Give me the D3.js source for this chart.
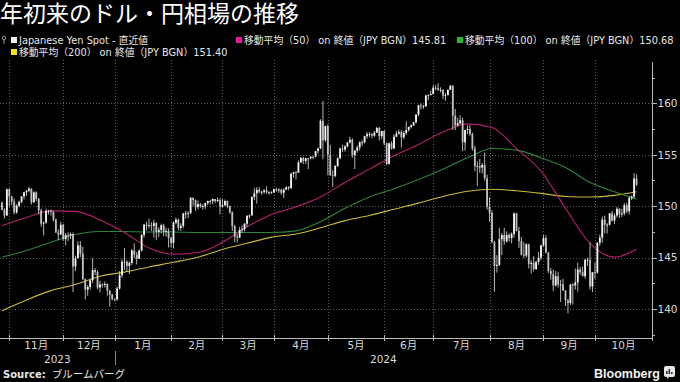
<!DOCTYPE html>
<html><head><meta charset="utf-8">
<script src="https://cdn.jsdelivr.net/npm/d3@7"></script>
<style>
html,body{margin:0;padding:0;background:#000;}
svg{display:block;}
text{font-family:"DejaVu Sans","Noto Sans CJK JP",sans-serif;}
text.brand{font-family:"Liberation Sans",Arial,sans-serif;}
</style></head><body>
<svg id="chart" width="680" height="382"></svg>
<script>
// ---- categories: trading days (weekdays) from first to last candle ----
const startDate = "2023-10-27";
const endDate = "2024-10-24";

// ---- daily USD/JPY candles (Oct-27-2023 .. Oct-24-2024) ----
const open = [
150.35,149.65,149.1,
151.65,150.95,150.45,149.4,150.05,150.4,150.95,151.35,151.5,151.7,150.4,151.35,150.7,149.6,148.3,148.4,149.55,149.55,149.45,148.7,147.45,147.25,
148.2,146.8,147.2,147.15,147.3,144.15,144.95,146.2,145.4,142.9,141.9,142.15,142.8,143.8,143.6,142.1,142.4,142.35,142.45,141.8,141.4,
141.0,140.95,142.0,143.3,144.6,144.6,144.2,144.5,145.7,145.3,144.9,145.7,147.2,148.2,148.1,148.15,148.1,148.35,147.5,147.7,148.15,147.5,147.6,
146.9,146.45,148.4,148.7,147.9,148.1,149.3,149.3,149.35,150.8,150.6,149.9,150.2,150.0,150.0,150.3,150.5,150.5,150.7,150.5,150.6,
149.95,150.1,150.5,150.0,149.4,148.05,147.05,146.95,147.7,147.75,148.3,149.05,149.1,150.9,151.25,151.6,151.4,151.4,151.55,151.35,151.35,
151.35,151.65,151.55,151.6,151.3,151.6,151.85,151.75,153.15,153.3,153.25,154.25,154.7,154.4,154.65,154.65,154.8,154.8,155.35,155.6,158.3,156.4,
157.8,155.0,153.0,152.95,153.9,154.65,155.6,155.5,155.8,156.2,156.45,154.95,155.4,155.7,156.2,156.2,156.8,157.0,157.0,156.85,157.15,157.6,156.8,
157.3,156.1,154.1,156.1,155.6,156.75,157.05,157.2,156.7,157.1,157.4,157.7,157.85,158.15,158.9,159.8,159.7,159.7,160.75,160.8,
160.9,161.5,161.45,161.3,161.3,160.75,160.8,161.3,161.7,158.8,157.85,158.05,158.35,156.2,157.4,157.5,157.0,155.6,153.9,153.9,153.75,154.0,152.7,
149.95,149.35,146.5,144.2,144.3,146.8,147.2,146.6,147.2,146.9,147.3,149.3,147.6,146.6,145.3,145.2,146.3,144.4,144.5,143.9,144.6,145.0,
146.2,146.9,145.5,143.7,143.4,142.3,143.2,142.4,142.4,141.8,140.85,140.6,142.4,142.3,142.6,143.85,143.6,143.2,144.8,144.8,142.2,
143.6,143.55,146.45,146.95,148.7,148.2,148.2,149.3,148.6,149.1,149.75,149.2,149.3,150.1,149.5,150.8,150.95,152.7
];
const high = [
150.45,149.8,151.7,
151.75,151.0,150.75,150.2,150.55,151.0,151.4,151.6,151.9,151.75,151.45,151.45,150.8,149.75,148.5,149.75,149.65,149.7,149.55,148.8,147.75,148.5,
148.3,147.4,147.45,147.45,147.45,145.2,146.6,146.6,146.05,143.0,142.35,142.85,144.95,144.0,143.75,142.75,142.5,142.7,142.5,141.85,141.5,
141.05,142.2,143.7,144.85,145.95,144.75,144.65,145.85,146.4,145.55,145.8,147.3,148.3,148.5,148.8,148.45,148.7,148.45,147.95,148.3,148.3,147.9,147.85,
147.05,148.55,148.9,148.8,148.35,149.35,149.55,149.5,150.9,150.85,150.65,150.55,150.3,150.2,150.35,150.55,150.6,150.75,150.7,150.85,150.8,
150.7,150.65,150.55,150.05,149.5,148.2,147.3,148.0,148.15,148.35,149.15,149.2,150.95,151.8,151.85,151.85,151.5,151.65,151.95,151.45,151.45,
151.7,151.8,151.75,151.7,151.75,151.95,151.95,153.25,153.3,153.4,154.45,154.75,154.8,154.7,154.65,154.85,154.85,155.35,155.7,158.45,160.2,157.8,
157.95,155.95,153.5,154.0,154.75,155.7,155.95,155.95,156.25,156.75,156.6,155.45,155.9,156.3,156.4,156.85,157.2,157.2,157.1,157.3,157.7,157.7,157.3,
157.4,156.2,156.2,156.3,157.0,157.3,157.45,157.4,157.3,158.25,157.75,157.95,158.2,158.95,159.85,159.95,159.85,160.85,160.85,161.25,
161.75,161.75,161.95,161.55,161.35,161.0,161.35,161.75,161.75,159.45,158.6,158.85,158.6,157.4,157.85,157.9,157.15,155.85,154.35,154.6,154.2,155.2,153.05,
150.9,149.6,146.65,145.25,147.9,147.4,147.9,147.55,147.4,147.45,149.4,149.35,148.0,147.0,146.5,146.4,146.35,144.75,145.15,144.7,145.55,146.25,
147.2,147.2,145.55,144.0,143.85,143.7,143.6,142.85,142.95,141.85,141.0,142.4,142.5,143.95,144.5,144.1,144.15,144.85,145.0,146.5,143.35,
144.55,146.5,147.25,149.0,149.1,148.35,149.35,149.55,149.3,149.95,149.8,149.75,150.3,150.3,151.0,151.05,153.2,153.1
];
const low = [
149.6,148.8,149.05,
150.0,150.1,149.2,149.25,149.9,150.3,150.65,151.0,151.35,150.15,150.3,150.5,149.2,148.0,147.15,148.3,149.2,149.1,148.5,147.4,146.7,147.2,
146.65,146.2,146.6,146.8,141.65,143.7,144.95,145.05,142.85,140.95,141.3,141.9,142.55,143.3,141.95,141.6,142.1,142.1,141.3,140.25,140.85,
140.8,140.8,141.9,143.05,143.8,143.65,143.4,144.3,144.95,144.35,144.9,145.6,146.95,147.65,147.85,147.6,146.95,146.7,147.0,147.35,147.1,147.05,146.0,
146.0,145.9,148.25,147.65,147.6,147.85,148.8,148.85,149.2,150.05,149.55,149.7,149.85,149.65,149.75,150.1,150.2,150.2,150.3,150.4,149.2,
149.9,150.0,149.8,149.25,147.6,146.5,146.5,146.9,147.4,147.55,148.0,148.8,149.1,150.6,150.25,151.25,151.1,151.2,151.2,151.1,151.2,
151.25,151.4,151.3,151.1,150.8,151.6,151.55,151.7,152.75,152.6,153.25,154.2,154.1,154.1,153.6,154.55,154.55,154.75,155.1,155.55,154.55,156.25,
153.0,152.95,151.85,152.8,153.8,154.6,155.25,155.3,155.7,156.1,154.7,153.6,155.2,155.4,155.85,156.1,156.55,156.7,156.6,156.75,157.1,156.4,156.5,
155.9,154.0,154.05,155.5,155.55,156.7,156.95,155.7,156.5,156.9,157.25,157.55,157.8,158.05,158.75,159.4,159.45,159.65,160.3,160.75,
160.85,161.25,161.2,161.05,160.4,160.25,160.75,161.3,157.4,157.4,157.75,157.95,155.35,155.4,157.0,156.85,155.4,153.4,151.95,153.25,153.2,152.5,149.65,
148.5,146.4,141.7,143.55,144.2,145.25,146.25,146.45,146.55,146.4,146.95,147.55,145.95,145.2,144.95,145.05,143.95,143.45,143.65,143.8,144.3,144.75,
146.05,145.4,143.5,142.85,141.75,142.2,142.1,140.7,141.8,140.3,139.6,140.4,140.45,141.9,141.7,143.35,143.2,142.95,144.2,141.9,141.65,
142.95,143.45,146.15,146.45,147.35,147.35,148.15,148.5,148.25,148.9,148.85,148.95,149.1,149.3,149.2,150.6,150.75,151.95
];
const close = [
149.65,149.1,151.65,
150.95,150.45,149.4,150.05,150.4,150.95,151.35,151.5,151.7,150.4,151.35,150.7,149.6,148.3,148.4,149.55,149.55,149.45,148.7,147.45,147.25,148.2,
146.8,147.2,147.15,147.3,144.15,144.95,146.2,145.4,142.9,141.9,142.15,142.8,143.8,143.6,142.1,142.4,142.35,142.45,141.8,141.4,141.0,
140.95,142.0,143.3,144.6,144.6,144.2,144.5,145.7,145.3,144.9,145.7,147.2,148.2,148.1,148.15,148.1,148.35,147.5,147.7,148.15,147.5,147.6,146.9,
146.45,148.4,148.7,147.9,148.1,149.3,149.3,149.35,150.8,150.6,149.9,150.2,150.0,150.0,150.3,150.5,150.5,150.7,150.5,150.6,149.95,
150.1,150.5,150.0,149.4,148.05,147.05,146.95,147.7,147.75,148.3,149.05,149.1,150.9,151.25,151.6,151.4,151.4,151.55,151.35,151.35,151.35,
151.65,151.55,151.6,151.3,151.6,151.85,151.75,153.15,153.3,153.25,154.25,154.7,154.4,154.65,154.65,154.8,154.8,155.35,155.6,158.3,156.4,157.8,
155.0,153.0,152.95,153.9,154.65,155.6,155.5,155.8,156.2,156.45,154.95,155.4,155.7,156.2,156.2,156.8,157.0,157.0,156.85,157.15,157.6,156.8,157.3,
156.1,154.1,156.1,155.6,156.75,157.05,157.2,156.7,157.1,157.4,157.7,157.85,158.15,158.9,159.8,159.7,159.7,160.75,160.8,160.9,
161.5,161.45,161.3,161.3,160.75,160.8,161.3,161.7,158.8,157.85,158.05,158.35,156.2,157.4,157.5,157.0,155.6,153.9,153.9,153.75,154.0,152.7,149.95,
149.35,146.5,144.2,144.3,146.8,147.2,146.6,147.2,146.9,147.3,149.3,147.6,146.6,145.3,145.2,146.3,144.4,144.5,143.9,144.6,145.0,146.2,
146.9,145.5,143.7,143.4,142.3,143.2,142.4,142.4,141.8,140.85,140.6,142.4,142.3,142.6,143.85,143.6,143.2,144.8,144.8,142.2,143.6,
143.55,146.45,146.95,148.7,148.2,148.2,149.3,148.6,149.1,149.75,149.2,149.3,150.1,149.5,150.8,150.95,152.7,152.1
];

// ---- moving averages, sampled every 10 trading days (index into trading days) ----
const maIdx = [0,10,20,30,40,50,60,70,80,90,100,110,120,130,140,150,160,170,180,190,200,210,220,230,240,250,259];
const ma50  = [148.1,148.9,149.55,149.5,148.67,147.45,145.95,145.35,145.5,146.5,148.0,149.2,149.95,150.9,152.3,153.6,154.9,156.0,157.2,158.0,157.65,155.6,153.4,149.8,146.4,145.05,145.81];
const ma100 = [145.05,145.7,146.5,147.25,147.55,147.55,147.5,147.5,147.45,147.45,147.45,147.45,147.6,148.5,149.8,150.9,151.7,152.6,153.6,154.7,155.6,155.45,154.7,153.75,152.3,151.4,150.68];
const ma200 = [139.85,140.9,141.8,142.4,143.2,143.6,144.1,144.55,145.05,145.8,146.4,147.0,147.3,147.9,148.6,149.1,149.7,150.3,150.95,151.45,151.65,151.5,151.25,150.95,150.9,151.05,151.40];

// ---- axis labels ----
const yTicks = [140,145,150,155,160];
const yMinorTicks = [137.5,142.5,147.5,152.5,157.5,162.5];
const monthLabels = ["11月","12月","1月","2月","3月","4月","5月","6月","7月","8月","9月","10月"];
const yearLabels = ["2023","2024"];

// ---- texts ----
const titleText = "年初来のドル・円相場の推移";
const legendNames = ["Japanese Yen Spot - 直近値","移動平均（50） on 終値（JPY BGN）145.81","移動平均（100） on 終値（JPY BGN）150.68","移動平均（200） on 終値（JPY BGN）151.40"];
const legendColors = ["#f2f2f2","#e8179b","#2bb534","#f2e21a"];
const lineColors = {ma50:"#b5206f", ma100:"#27873a", ma200:"#cdb83a"};

// ================= drawing =================
const svg = d3.select("#chart");
svg.append("rect").attr("width",680).attr("height",382).attr("fill","#000");

const parse = d3.timeParse("%Y-%m-%d");
const days = d3.timeDay.range(parse(startDate), d3.timeDay.offset(parse(endDate),1))
  .filter(d => d.getDay()!==0 && d.getDay()!==6);

const plotL = 0, plotR = 652, plotT = 60, plotB = 338;
const x = d3.scaleLinear().domain([-0.8, 265.3]).range([plotL, plotR]);
const y = d3.scaleLinear().domain([137.2, 164.2]).range([plotB, plotT]);

// month boundaries
const monthStarts = [];
days.forEach((d,i)=>{ if(i>0 && d.getMonth()!==days[i-1].getMonth()) monthStarts.push(i); });

const grid = svg.append("g");
grid.selectAll("line.h").data(yTicks).join("line")
  .attr("x1",plotL).attr("x2",plotR).attr("y1",d=>Math.round(y(d))+0.5).attr("y2",d=>Math.round(y(d))+0.5)
  .attr("stroke","#5c5c5c").attr("stroke-dasharray","1,2");
grid.selectAll("line.v").data(monthStarts).join("line")
  .attr("x1",d=>Math.round(x(d))+0.5).attr("x2",d=>Math.round(x(d))+0.5).attr("y1",plotT).attr("y2",plotB)
  .attr("stroke","#5c5c5c").attr("stroke-dasharray","1,2");

const plot = svg.append("g");
svg.append("clipPath").attr("id","clip").append("rect").attr("x",plotL).attr("y",plotT).attr("width",plotR-plotL).attr("height",plotB-plotT);
plot.attr("clip-path","url(#clip)");

// MA lines
const maLine = vals => d3.line().x((d,i)=>x(maIdx[i])).y(d=>y(d)).curve(d3.curveMonotoneX)(vals);
plot.append("path").attr("d",maLine(ma200)).attr("fill","none").attr("stroke",lineColors.ma200).attr("stroke-width",1.1);
plot.append("path").attr("d",maLine(ma100)).attr("fill","none").attr("stroke",lineColors.ma100).attr("stroke-width",1.1);
plot.append("path").attr("d",maLine(ma50)).attr("fill","none").attr("stroke",lineColors.ma50).attr("stroke-width",1.1);

// candles
const idx = d3.range(close.length);
plot.selectAll("line.wick").data(idx).join("line")
  .attr("x1",i=>x(i)).attr("x2",i=>x(i)).attr("y1",i=>y(high[i])).attr("y2",i=>y(low[i]))
  .attr("stroke","#c8c8c8").attr("stroke-width",0.9);
plot.selectAll("rect.body").data(idx).join("rect")
  .attr("x",i=>x(i)-0.9).attr("width",1.8)
  .attr("y",i=>y(Math.max(open[i],close[i])))
  .attr("height",i=>Math.max(0.8, Math.abs(y(open[i])-y(close[i]))))
  .attr("fill",i=>close[i]>=open[i]?"#f4f4f4":"#bfbfbf");

// right axis
const axC = "#b8b8b8";
svg.append("line").attr("x1",plotR+0.5).attr("x2",plotR+0.5).attr("y1",plotT+2).attr("y2",plotB).attr("stroke",axC);
svg.selectAll("line.yt").data(yTicks).join("line")
  .attr("x1",plotR).attr("x2",plotR+5).attr("y1",d=>Math.round(y(d))+0.5).attr("y2",d=>Math.round(y(d))+0.5).attr("stroke",axC);
svg.selectAll("line.ym").data(yMinorTicks).join("line")
  .attr("x1",plotR).attr("x2",plotR+3).attr("y1",d=>Math.round(y(d))+0.5).attr("y2",d=>Math.round(y(d))+0.5).attr("stroke",axC);
svg.selectAll("text.yl").data(yTicks).join("text")
  .attr("x",plotR+5.5).attr("y",d=>y(d)).attr("dy","0.36em")
  .attr("font-size",10.5).attr("fill","#d8d8d8").text(d=>d);

// bottom axis
svg.append("line").attr("x1",plotL).attr("x2",plotR+1).attr("y1",plotB+0.5).attr("y2",plotB+0.5).attr("stroke",axC);
svg.selectAll("line.xt").data(monthStarts).join("line")
  .attr("x1",d=>Math.round(x(d))+0.5).attr("x2",d=>Math.round(x(d))+0.5).attr("y1",plotB-3).attr("y2",plotB+3).attr("stroke",axC);
svg.append("line").attr("x1",plotR+0.5).attr("x2",plotR+0.5).attr("y1",plotB-3).attr("y2",plotB+3).attr("stroke",axC);

const bounds = monthStarts.map(i=>x(i)).concat([plotR]);
svg.selectAll("text.ml").data(monthLabels).join("text")
  .attr("x",(d,i)=>(bounds[i]+bounds[i+1])/2).attr("y",345.5).attr("dy","0.36em")
  .attr("text-anchor","middle").attr("font-size",10.5).attr("fill","#d8d8d8").text(d=>d);

const jan = monthStarts[2];
const yearBounds = [[plotL, x(jan)],[x(jan), plotR]];
svg.selectAll("text.yr").data(yearLabels).join("text")
  .attr("x",(d,i)=>(yearBounds[i][0]+yearBounds[i][1])/2).attr("y",359).attr("dy","0.36em")
  .attr("text-anchor","middle").attr("font-size",10.5).attr("fill","#d8d8d8").text(d=>d);
svg.append("line").attr("x1",Math.round(x(jan))+0.5).attr("x2",Math.round(x(jan))+0.5).attr("y1",351).attr("y2",365).attr("stroke","#888");

// title
svg.append("text").attr("x",0).attr("y",21.5).attr("font-size",23).attr("fill","#fff").text(titleText);

// legend
const legPos = [[11,40],[236,40],[457,40],[11,52]];
const leg = svg.append("g");
leg.append("circle").attr("cx",4).attr("cy",38).attr("r",1.8).attr("fill","none").attr("stroke","#9a9a9a").attr("stroke-width",1);
leg.append("line").attr("x1",4).attr("x2",4).attr("y1",40).attr("y2",44).attr("stroke","#9a9a9a");
legendNames.forEach((n,i)=>{
  const [lx,ly] = legPos[i];
  leg.append("rect").attr("x",lx).attr("y",ly-3).attr("width",6).attr("height",6).attr("fill",legendColors[i]);
  leg.append("text").attr("x",lx+8).attr("y",ly).attr("dy","0.36em").attr("font-size",9.8).attr("fill","#e6e6e6").text(n);
});

// footer
const src = svg.append("text").attr("x",3).attr("y",377.5).attr("font-size",10).attr("fill","#e6e6e6");
src.append("tspan").attr("font-weight","bold").text("Source:");
src.append("tspan").attr("dx",6).attr("font-size",10.5).text("ブルームバーグ");
svg.append("text").attr("class","brand").attr("x",594).attr("y",378)
  .attr("font-weight","bold").attr("font-size",12.5).attr("fill","#f2f2f2").text("Bloomberg");
const ic = svg.append("g").attr("transform","translate(664,366)");
ic.append("rect").attr("width",11).attr("height",11).attr("rx",2).attr("fill","#e8e8e8");
[[2,5,1.6],[4.5,3,1.6],[7,6,1.6]].forEach(b=>ic.append("rect").attr("x",b[0]).attr("y",b[1]).attr("width",b[2]).attr("height",8-b[1]).attr("fill","#333"));
ic.append("path").attr("d","M3,11 L3,13 L5,11 Z").attr("fill","#e8e8e8");
</script>
</body></html>
